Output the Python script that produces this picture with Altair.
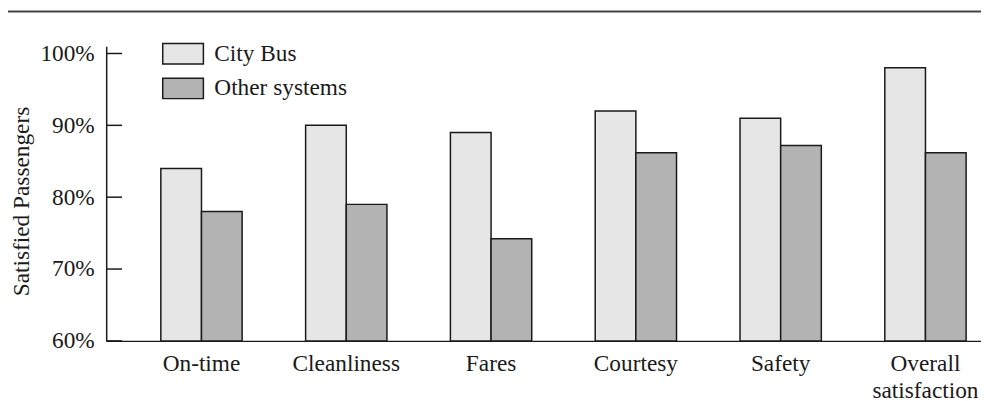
import altair as alt
import pandas as pd

categories = ["On-time", "Cleanliness", "Fares", "Courtesy", "Safety", "Overall satisfaction"]
series = ["City Bus", "Other systems"]
city_bus = [84, 90, 89, 92, 91, 98]
other_systems = [78, 79, 74.2, 86.2, 87.2, 86.2]
y_ticks = [60, 70, 80, 90, 100]
colors = ["#e6e6e6", "#b3b3b3"]

rows = []
for c, a, b in zip(categories, city_bus, other_systems):
    rows.append({"category": c, "series": series[0], "value": a})
    rows.append({"category": c, "series": series[1], "value": b})
df = pd.DataFrame(rows)
ticks_df = pd.DataFrame({"tick": y_ticks})

FONT = "Liberation Serif"
FS = 23.5
W, H = 882, 297

yscale = alt.Scale(domain=[60, 101], nice=False)

bars = alt.Chart(df).mark_bar(stroke="#1a1a1a", strokeWidth=1.5).encode(
    x=alt.X("category:N", sort=categories,
            scale=alt.Scale(paddingInner=0.4384, paddingOuter=0.24, align=0.786),
            axis=alt.Axis(title=None, labelAngle=0, labelFont=FONT, labelFontSize=FS,
                          labelColor="#1a1a1a", labelPadding=11, ticks=False,
                          labelExpr="split(datum.label, ' ')", labelLineHeight=27,
                          domainColor="#1a1a1a", domainWidth=1.5, grid=False)),
    xOffset=alt.XOffset("series:N", sort=series, scale=alt.Scale(paddingInner=0, paddingOuter=0)),
    y=alt.Y("value:Q", scale=yscale,
            axis=alt.Axis(title="Satisfied Passengers", values=y_ticks, ticks=False, tickSize=0,
                          labelExpr="datum.value + '%'", labelFont=FONT, labelFontSize=FS,
                          labelColor="#1a1a1a", labelPadding=12, grid=False,
                          domainColor="#1a1a1a", domainWidth=1.5,
                          titleFont=FONT, titleFontSize=FS, titleFontWeight="normal",
                          titleColor="#1a1a1a", titleX=-78, titleY=156,
                          titleBaseline="alphabetic")),
    y2=alt.datum(60),
    fill=alt.Fill("series:N", sort=series, scale=alt.Scale(domain=series, range=colors),
                  legend=alt.Legend(title=None, orient="none", legendX=56, legendY=-14,
                                    symbolType="M-1,-0.5H1V0.5H-1Z", symbolSize=1681,
                                    symbolStrokeColor="#1a1a1a", symbolStrokeWidth=1.5,
                                    symbolOpacity=1, labelFont=FONT, labelFontSize=FS,
                                    labelColor="#1a1a1a", labelOffset=10, rowPadding=-8)),
)

tick_rules = alt.Chart(ticks_df).mark_rule(color="#1a1a1a", strokeWidth=1.5).encode(
    y=alt.Y("tick:Q", scale=yscale),
    x=alt.value(0),
    x2=alt.value(16),
)

top_rule = alt.Chart(ticks_df.head(1)).mark_rule(color="#444444", strokeWidth=2).encode(
    x=alt.value(-100), x2=alt.value(W), y=alt.value(-35)
)

chart = alt.layer(bars, tick_rules, top_rule).properties(
    width=W, height=H,
    background="white",
    autosize=alt.AutoSizeParams(type="none"),
    padding={"left": 99, "top": 37, "right": 0, "bottom": 60},
).configure_view(stroke="transparent", strokeWidth=0).configure_axis(grid=False)

chart.save("out.html", embed_options={"renderer": "svg", "actions": False})
